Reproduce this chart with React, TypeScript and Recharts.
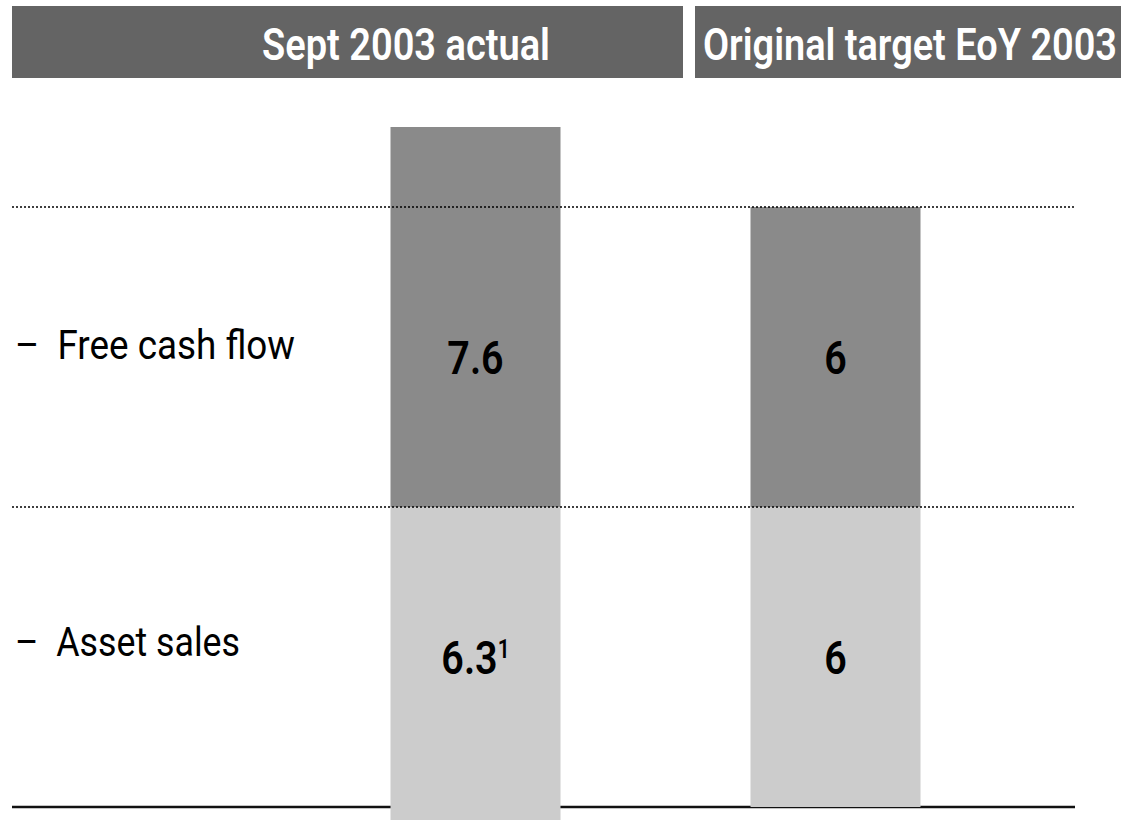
import { BarChart, Bar, XAxis, YAxis, ReferenceLine, LabelList } from "recharts"

const categories = ["Sept 2003 actual", "Original target EoY 2003"]
const freeCashFlow = [7.6, 6]
const assetSales = [6.3, 6]
const assetSalesNotes = ["1", ""]
const rowLabels = ["–  Free cash flow", "–  Asset sales"]

const FONT = "Roboto, 'Liberation Sans', sans-serif"

const W = 1121
const H = 820
const MARGIN = { top: 7, right: 46, bottom: 0, left: 12 }
const Y_MIN = -6.26
const Y_MAX = 10
const PLOT_H = H - MARGIN.top - MARGIN.bottom

// value -> pixel, same mapping as the y axis below
const yPx = (v: number) => MARGIN.top + ((Y_MAX - v) / (Y_MAX - Y_MIN)) * PLOT_H

const data = categories.map((name, i) => ({
  name,
  fcf: freeCashFlow[i],
  assets: -assetSales[i],
}))

// labels sit in the middle of their row band, squeezed to look condensed
function makeLabel(lo: number, hi: number, values: number[], notes?: string[]) {
  return (props: any) => {
    const { x, width, index } = props
    const cx = x + width / 2
    const cy = (yPx(lo) + yPx(hi)) / 2 + 17
    return (
      <g transform={`translate(${cx},${cy}) scale(0.84,1)`}>
        <text x={0} y={0} textAnchor="middle" fontFamily={FONT} fontWeight={600} fontSize={47} fill="#000">
          {String(values[index])}
          {notes && notes[index] ? (
            <tspan fontSize={25} dy={-16}>
              {notes[index]}
            </tspan>
          ) : null}
        </text>
      </g>
    )
  }
}

function App() {
  return (
    <div style={{ position: "absolute", left: 0, top: 0, width: W, height: H }}>
      <BarChart width={W} height={H} data={data} margin={MARGIN} stackOffset="sign">
        <XAxis dataKey="name" hide padding={{ left: 283.5, right: 59.5 }} />
        <YAxis hide type="number" domain={[Y_MIN, Y_MAX]} allowDataOverflow />
        <ReferenceLine y={-6} stroke="#111" strokeWidth={2.5} zIndex={-50} />
        <Bar dataKey="fcf" stackId="a" fill="#8a8a8a" barSize={170} isAnimationActive={false}>
          <LabelList dataKey="fcf" content={makeLabel(0, 6, freeCashFlow)} />
        </Bar>
        <Bar dataKey="assets" stackId="a" fill="#cccccc" barSize={170} isAnimationActive={false}>
          <LabelList dataKey="assets" content={makeLabel(-6, 0, assetSales, assetSalesNotes)} />
        </Bar>
        <ReferenceLine y={6} stroke="#000" strokeWidth={1.3} strokeDasharray="2 2" />
        <ReferenceLine y={0} stroke="#000" strokeWidth={1.3} strokeDasharray="2 2" />
      </BarChart>

      {/* header bars and row captions */}
      <svg
        width={W}
        height={H}
        style={{ position: "absolute", left: 0, top: 0, pointerEvents: "none" }}
      >
        <rect x={12} y={6} width={671} height={72} fill="#646464" />
        <rect x={695} y={6} width={426} height={72} fill="#646464" />
        <text x={262} y={60} fontFamily={FONT} fontWeight={600} fontSize={44} fill="#fff"
          textLength={288} lengthAdjust="spacingAndGlyphs">
          {categories[0]}
        </text>
        <text x={703} y={60} fontFamily={FONT} fontWeight={600} fontSize={44} fill="#fff"
          textLength={414} lengthAdjust="spacingAndGlyphs">
          {categories[1]}
        </text>
        <text x={15} y={359} fontFamily={FONT} fontSize={41} fill="#000" style={{ whiteSpace: "pre" }}
          textLength={280} lengthAdjust="spacingAndGlyphs">
          {rowLabels[0]}
        </text>
        <text x={15} y={656} fontFamily={FONT} fontSize={41} fill="#000" style={{ whiteSpace: "pre" }}
          textLength={225} lengthAdjust="spacingAndGlyphs">
          {rowLabels[1]}
        </text>
      </svg>
    </div>
  )
}

export default App
